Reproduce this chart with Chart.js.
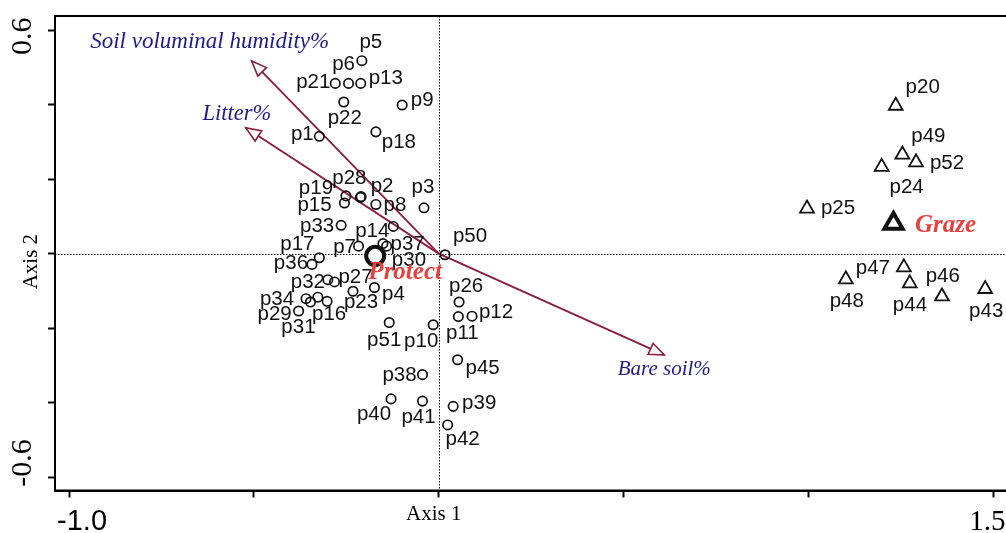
<!DOCTYPE html>
<html lang="en">
<head>
<meta charset="UTF-8" />
<title>Ordination biplot</title>
<style>
  html, body { margin: 0; padding: 0; background: #fff; overflow: hidden; }
  #wrap { width: 1030px; height: 533px; }
</style>
</head>
<body>
<div id="wrap"><canvas id="myChart" width="1030" height="533"></canvas></div>
<script src="https://cdn.jsdelivr.net/npm/chart.js"></script>
<script>
// site scores - protected plots (circles)
const protectNames = ['p1','p2','p3','p4','p5','p6','p7','p8','p9','p10','p11','p12','p13','p14','p15','p16','p17','p18','p19','p21','p22','p23','p26','p27','p28','p29','p30','p31','p32','p33','p34','p35','p36','p37','p38','p39','p40','p41','p42','p45','p50','p51'];
const protectX = [-0.323,-0.210,-0.040,-0.174,-0.208,-0.244,-0.217,-0.170,-0.099,-0.015,0.053,0.090,-0.211,-0.123,-0.255,-0.302,-0.323,-0.170,-0.251,-0.280,-0.257,-0.232,0.055,-0.282,-0.212,-0.379,-0.151,-0.347,-0.300,-0.264,-0.359,-0.327,-0.343,-0.141,-0.044,0.039,-0.129,-0.044,0.024,0.051,0.017,-0.134];
const protectY = [0.315,0.153,0.123,-0.091,0.518,0.457,0.020,0.132,0.399,-0.191,-0.169,-0.168,0.457,0.073,0.136,-0.128,-0.011,0.327,0.155,0.457,0.407,-0.101,-0.130,-0.076,0.151,-0.154,0.027,-0.130,-0.070,0.076,-0.121,-0.117,-0.029,0.020,-0.325,-0.410,-0.390,-0.396,-0.460,-0.285,-0.003,-0.185];

// site scores - grazed plots (triangles)
const grazeNames = ['p20','p24','p25','p43','p44','p46','p47','p48','p49','p52'];
const grazeX = [1.236,1.198,0.996,1.478,1.361,1.274,1.258,1.101,1.254,1.291];
const grazeY = [0.397,0.233,0.121,-0.095,-0.115,-0.080,-0.037,-0.069,0.266,0.245];

// treatment centroids
const groupNames = ['Protect','Graze'];
const groupX = [-0.172, 1.230];
const groupY = [-0.006, 0.081];

// environmental variables (arrows)
const envNames = ['Soil voluminal humidity%','Litter%','Bare soil%'];
const envX = [-0.506, -0.522, 0.610];
const envY = [0.517, 0.338, -0.272];

const xTicks = [-1.0, -0.5, 0, 0.5, 1.0, 1.5];
const yTicks = [-0.6, -0.4, -0.2, 0, 0.2, 0.4, 0.6];

// label placement around each marker, pixels from the marker centre
const labelOffset = {
  p1:[-17,-2], p2:[21,-10], p3:[-1,-20], p4:[19,7], p5:[9,-18], p6:[-5,-19], p7:[-14,1], p8:[19,1],
  p9:[20,-5], p10:[-12,17], p11:[4,17], p12:[24,-4], p13:[25,-5], p14:[-21,5], p15:[-30,2], p16:[2,13],
  p17:[-22,-13], p18:[23,11], p19:[-30,-8], p21:[-22,-1], p22:[1,16], p23:[8,11], p26:[7,-16], p27:[21,-5],
  p28:[-11,-19], p29:[-24,3], p30:[26,17], p31:[-12,25], p32:[-20,3], p33:[-24,1], p34:[-29,1], p35:null,
  p36:[-21,-1], p37:[21,-2], p38:[-23,1], p39:[26,-3], p40:[-17,15], p41:[-4,16], p42:[15,14], p45:[25,9],
  p50:[25,-18], p51:[-5,18],
  p20:[27,-18], p24:[25,21], p25:[31,0], p43:[1,22], p44:[-32,9], p46:[33,-7], p47:[-31,1], p48:[1,22],
  p49:[26,-18], p52:[31,1],
  Protect:[30,17], Graze:[52,2],
  'Soil voluminal humidity%':[-42,-19], 'Litter%':[-9,-14], 'Bare soil%':[0,15]
};

const SERIF = '"Liberation Serif", "Times New Roman", serif';
const SANS = '"Liberation Sans", Arial, sans-serif';
const ARROW = '#8c1c3c';
const NAVY = '#1e1a8c';
const RED = '#e8403e';

function pts(xs, ys) {
  return xs.map((x, i) => ({ x: x, y: ys[i] }));
}

const arrowSets = envNames.map((n, i) => ({
  label: n,
  data: [{ x: 0, y: 0 }, { x: envX[i], y: envY[i] }],
  showLine: true,
  borderColor: ARROW,
  borderWidth: 1.8,
  pointRadius: 0
}));

const biplot = {
  id: 'biplot',
  beforeDatasetsDraw(chart) {
    const { ctx, chartArea: a, scales: { x, y } } = chart;
    ctx.save();
    ctx.strokeStyle = '#000';
    ctx.lineWidth = 1;
    ctx.setLineDash([1.5, 1.5]);
    const x0 = Math.round(x.getPixelForValue(0)) + 0.5;
    const y0 = Math.round(y.getPixelForValue(0)) + 0.5;
    ctx.beginPath();
    ctx.moveTo(x0, a.top); ctx.lineTo(x0, a.bottom);
    ctx.moveTo(a.left, y0); ctx.lineTo(a.right, y0);
    ctx.stroke();
    ctx.setLineDash([]);
    ctx.lineWidth = 2;
    ctx.strokeRect(a.left, a.top, a.right - a.left, a.bottom - a.top);
    ctx.restore();
  },
  afterDatasetsDraw(chart) {
    const { ctx, scales: { x, y } } = chart;
    const ox = x.getPixelForValue(0), oy = y.getPixelForValue(0);
    ctx.save();
    // open arrow heads
    envNames.forEach((n, i) => {
      const tx = x.getPixelForValue(envX[i]), ty = y.getPixelForValue(envY[i]);
      const ang = Math.atan2(ty - oy, tx - ox);
      const L = 15, W = 6;
      const bx = tx - L * Math.cos(ang), by = ty - L * Math.sin(ang);
      ctx.beginPath();
      ctx.moveTo(tx, ty);
      ctx.lineTo(bx - W * Math.sin(ang), by + W * Math.cos(ang));
      ctx.lineTo(bx + W * Math.sin(ang), by - W * Math.cos(ang));
      ctx.closePath();
      ctx.fillStyle = '#fff';
      ctx.fill();
      ctx.strokeStyle = ARROW;
      ctx.lineWidth = 1.6;
      ctx.stroke();
    });
    ctx.restore();
  },
  afterDraw(chart) {
    const { ctx, scales: { x, y } } = chart;
    ctx.save();
    ctx.textAlign = 'center';
    ctx.textBaseline = 'middle';

    // plot labels
    ctx.fillStyle = '#111';
    ctx.font = '20.5px ' + SANS;
    [0, 1].forEach(di => {
      const names = chart.data.datasets[di].names;
      chart.getDatasetMeta(di).data.forEach((el, j) => {
        const off = labelOffset[names[j]];
        if (!off) return;
        ctx.fillText(names[j], el.x + off[0], el.y + off[1]);
      });
    });

    // centroid labels
    ctx.fillStyle = RED;
    ctx.font = 'italic bold 25px ' + SERIF;
    [2, 3].forEach((di, k) => {
      const el = chart.getDatasetMeta(di).data[0];
      const off = labelOffset[groupNames[k]];
      ctx.fillText(groupNames[k], el.x + off[0], el.y + off[1]);
    });

    // variable labels
    ctx.fillStyle = NAVY;
    const envSize = [23, 22.5, 21];
    envNames.forEach((n, i) => {
      const off = labelOffset[n];
      ctx.font = 'italic ' + envSize[i] + 'px ' + SERIF;
      ctx.fillText(n, x.getPixelForValue(envX[i]) + off[0], y.getPixelForValue(envY[i]) + off[1]);
    });

    // axis end labels
    ctx.fillStyle = '#000';
    ctx.font = '29px ' + SANS;
    ctx.fillText('-1.0', x.getPixelForValue(xTicks[0]) + 13, 522);
    ctx.font = '29px ' + SERIF;
    ctx.textAlign = 'left';
    ctx.fillText('1.5', x.getPixelForValue(xTicks[xTicks.length - 1]) - 24, 522);
    ctx.textAlign = 'center';
    ctx.font = '21px ' + SERIF;
    ctx.fillText('Axis 1', x.getPixelForValue(0) - 5, 514);

    const rot = (txt, cx, cy, font) => {
      ctx.save();
      ctx.translate(cx, cy);
      ctx.rotate(-Math.PI / 2);
      ctx.font = font;
      ctx.fillText(txt, 0, 0);
      ctx.restore();
    };
    rot('0.6', 23.5, y.getPixelForValue(yTicks[yTicks.length - 1]) + 6, '30px ' + SERIF);
    rot('-0.6', 23.5, y.getPixelForValue(yTicks[0]) - 14, '30px ' + SERIF);
    rot('Axis 2', 31, y.getPixelForValue(0) + 8, '21px ' + SERIF);
    ctx.restore();
  }
};

new Chart(document.getElementById('myChart'), {
  type: 'scatter',
  data: {
    datasets: [
      {
        label: 'Protect plots',
        names: protectNames,
        data: pts(protectX, protectY),
        pointStyle: 'circle',
        pointRadius: 4.7,
        pointBorderWidth: 1.7,
        borderColor: '#111',
        backgroundColor: 'rgba(255,255,255,0)'
      },
      {
        label: 'Graze plots',
        names: grazeNames,
        data: pts(grazeX, grazeY),
        pointStyle: 'triangle',
        pointRadius: 8,
        pointBorderWidth: 1.8,
        borderColor: '#111',
        backgroundColor: 'rgba(255,255,255,0)'
      },
      {
        label: groupNames[0],
        data: [{ x: groupX[0], y: groupY[0] }],
        pointStyle: 'circle',
        pointRadius: 9,
        pointBorderWidth: 4,
        borderColor: '#111',
        backgroundColor: '#fff'
      },
      {
        label: groupNames[1],
        data: [{ x: groupX[1], y: groupY[1] }],
        pointStyle: 'triangle',
        pointRadius: 10.5,
        pointBorderWidth: 4,
        borderColor: '#111',
        backgroundColor: '#fff'
      }
    ].concat(arrowSets)
  },
  options: {
    responsive: false,
    animation: false,
    events: [],
    layout: { padding: { left: 55, top: 16, right: 11, bottom: 42.5 } },
    plugins: { legend: { display: false }, tooltip: { enabled: false } },
    scales: {
      x: {
        type: 'linear',
        min: -1.038,
        max: 1.56,
        afterBuildTicks: s => { s.ticks = xTicks.map(v => ({ value: v })); },
        afterFit: s => { s.height = 0; },
        ticks: { display: false },
        grid: { drawOnChartArea: false, drawTicks: true, tickLength: 7, tickWidth: 2, tickColor: '#000' },
        border: { display: true, color: '#000', width: 2 }
      },
      y: {
        type: 'linear',
        min: -0.636,
        max: 0.638,
        afterBuildTicks: s => { s.ticks = yTicks.map(v => ({ value: v })); },
        afterFit: s => { s.width = 0; },
        ticks: { display: false },
        grid: { drawOnChartArea: false, drawTicks: true, tickLength: 7, tickWidth: 2, tickColor: '#000' },
        border: { display: true, color: '#000', width: 2 }
      }
    }
  },
  plugins: [biplot]
});
</script>
</body>
</html>
